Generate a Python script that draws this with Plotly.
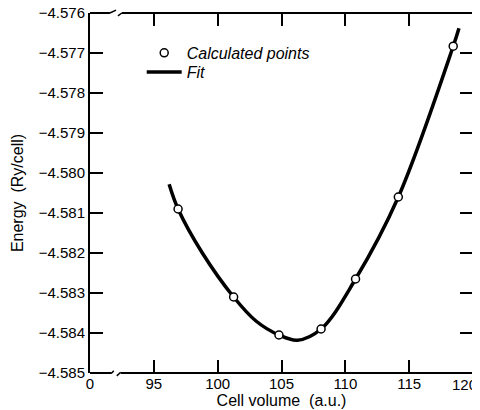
import plotly.graph_objects as go

# Calculated points
calc_volume = [96.9, 101.25, 104.8, 108.1, 110.8, 114.15, 118.45]
calc_energy = [-4.5809, -4.5831, -4.58405, -4.5839, -4.58265, -4.5806, -4.57683]

# Fit curve samples
fit_volume = [96.2, 96.9, 98.8, 101.25, 103.0, 104.8, 106.25, 108.1, 110.8, 114.15, 118.45, 118.9]
fit_energy = [-4.58028, -4.5809, -4.5820, -4.5831, -4.5837, -4.58405, -4.58418, -4.5839, -4.58265, -4.5806, -4.57683, -4.57638]

x_tickvals = [90, 95, 100, 105, 110, 115, 120]
x_ticktext = ["0", "95", "100", "105", "110", "115", "120"]
y_tickvals = [-4.576, -4.577, -4.578, -4.579, -4.580, -4.581, -4.582, -4.583, -4.584, -4.585]

FONT = "Liberation Sans, Arial, Helvetica, sans-serif"

fig = go.Figure()
fig.add_trace(go.Scatter(x=fit_volume, y=fit_energy, mode="lines", name="Fit",
                         legend="legend2",
                         line=dict(color="black", width=3.5, shape="spline", smoothing=1.0)))
fig.add_trace(go.Scatter(x=calc_volume, y=calc_energy, mode="markers", name="Calculated points",
                         legend="legend",
                         marker=dict(symbol="circle", size=8, color="white",
                                     line=dict(color="black", width=1.5))))

# axis frame with breaks
L = dict(color="black", width=2)
S = dict(color="black", width=1.5)
shapes = [
    # bottom axis segments
    dict(type="line", xref="paper", yref="paper", x0=0, x1=0.057, y0=0, y1=0, line=L),
    dict(type="line", xref="paper", yref="paper", x0=0.057, x1=0.062, y0=0, y1=0.006, line=S),
    dict(type="line", xref="paper", yref="paper", x0=0.07, x1=0.08, y0=-0.008, y1=0.002, line=S),
    dict(type="line", xref="paper", yref="paper", x0=0.08, x1=1, y0=0, y1=0, line=L),
    # top axis segments
    dict(type="line", xref="paper", yref="paper", x0=0, x1=0.052, y0=1, y1=1, line=L),
    dict(type="line", xref="paper", yref="paper", x0=0.052, x1=0.068, y0=1, y1=1.008, line=S),
    dict(type="line", xref="paper", yref="paper", x0=0.073, x1=0.083, y0=0.992, y1=1, line=S),
    dict(type="line", xref="paper", yref="paper", x0=0.083, x1=1, y0=1, y1=1, line=L),
]

# last x tick label drawn as annotation so it stays inside the page
shown_ticktext = x_ticktext[:-1] + [""]
annotations = [dict(x=x_tickvals[-1], y=0, xref="x", yref="paper",
                    text=x_ticktext[-1], showarrow=False,
                    xanchor="center", yanchor="top", xshift=-9, yshift=-1,
                    font=dict(family=FONT, size=15, color="black"))]

legend_common = dict(xanchor="left", yanchor="middle",
                     font=dict(family=FONT, size=16, style="italic"),
                     bgcolor="rgba(0,0,0,0)", itemwidth=35)

fig.update_layout(
    width=472, height=402,
    margin=dict(l=82, r=7, t=5, b=37, autoexpand=False),
    paper_bgcolor="white", plot_bgcolor="white",
    font=dict(family=FONT, size=15, color="black"),
    shapes=shapes,
    annotations=annotations,
    showlegend=True,
    legend=dict(x=0.135, y=0.889, **legend_common),
    legend2=dict(x=0.135, y=0.836, **legend_common),
    xaxis=dict(range=[90, 120], tickvals=x_tickvals, ticktext=shown_ticktext,
               ticks="inside", ticklen=13, tickwidth=1.5, tickcolor="black",
               mirror="ticks", showline=True, linecolor="rgba(0,0,0,0)", linewidth=1,
               showgrid=False, zeroline=False, automargin=False,
               ticklabeloverflow="allow", ticklabelstandoff=-3,
               tickfont=dict(size=15),
               title=dict(text="Cell volume  (a.u.)", font=dict(size=16), standoff=0)),
    yaxis=dict(range=[-4.585, -4.576], tickvals=y_tickvals, tickformat=".3f",
               ticks="inside", ticklen=13, tickwidth=1.5, tickcolor="black",
               mirror="ticks", showline=True, linecolor="black", linewidth=2,
               showgrid=False, zeroline=False, automargin=False,
               ticklabeloverflow="allow",
               tickfont=dict(size=15),
               title=dict(text="Energy  (Ry/cell)", font=dict(size=16), standoff=11)),
)

fig.write_html("out.html")
